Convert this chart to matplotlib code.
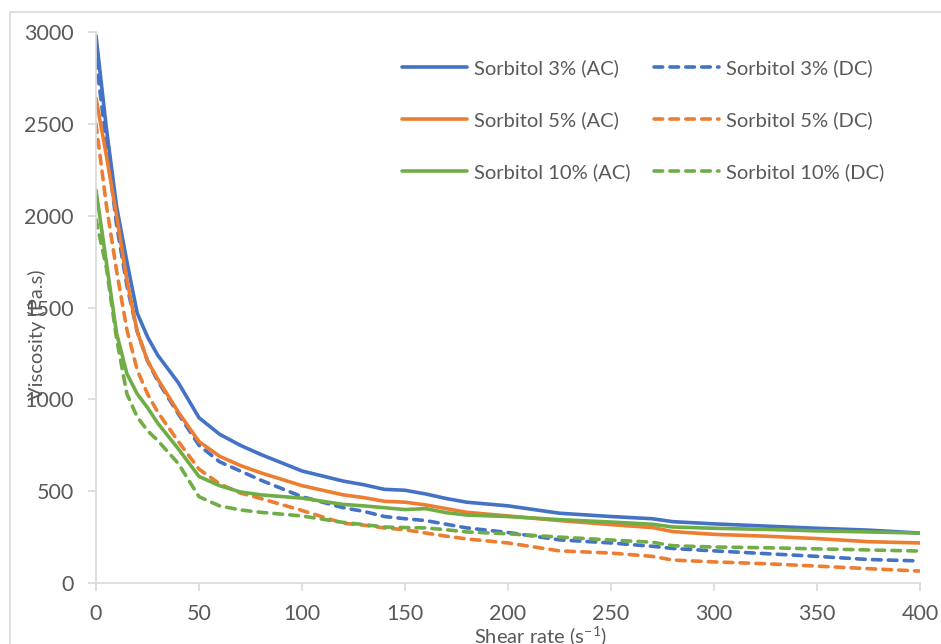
import matplotlib
matplotlib.use("Agg")
import matplotlib.pyplot as plt
from matplotlib.patches import Rectangle

plt.rcParams['font.family'] = ['Lato', 'DejaVu Sans']
plt.rcParams['mathtext.fontset'] = 'custom'
plt.rcParams['mathtext.rm'] = 'Lato'
plt.rcParams['mathtext.default'] = 'regular'

# shear rate (1/s)
shear = [0, 5, 10, 15, 20, 25, 30, 40, 50, 60, 70, 80, 100, 120, 130, 140,
         150, 160, 170, 180, 200, 225, 250, 270, 280, 300, 325, 350, 375, 400]

# viscosity (Pa.s), AC = ascending curve, DC = descending curve
s3_ac = [2980, 2480, 2050, 1750, 1470, 1340, 1240, 1090, 900, 810, 750, 700, 610, 555, 535, 510,
         505, 485, 460, 440, 420, 380, 362, 350, 334, 322, 310, 298, 288, 272]
s3_dc = [2850, 2400, 1950, 1620, 1370, 1210, 1100, 920, 750, 660, 610, 560, 470, 410, 390, 362,
         350, 340, 320, 300, 275, 235, 218, 200, 188, 175, 160, 145, 128, 120]
s5_ac = [2640, 2330, 2000, 1650, 1370, 1210, 1110, 930, 770, 690, 640, 600, 530, 480, 465, 445,
         440, 425, 405, 385, 365, 340, 318, 302, 280, 265, 255, 242, 225, 218]
s5_dc = [2500, 2060, 1700, 1380, 1160, 1030, 930, 770, 620, 540, 490, 460, 395, 325, 315, 300,
         290, 272, 255, 240, 218, 175, 163, 145, 125, 115, 105, 92, 78, 65]
s10_ac = [2140, 1750, 1360, 1140, 1030, 955, 870, 730, 580, 530, 496, 480, 462, 428, 420, 410,
          400, 405, 383, 370, 362, 345, 332, 320, 305, 298, 292, 284, 278, 272]
s10_dc = [1980, 1720, 1330, 1030, 904, 830, 775, 650, 470, 420, 398, 385, 365, 330, 318, 305,
          302, 300, 290, 278, 268, 250, 234, 222, 203, 196, 192, 186, 180, 174]

blue, orange, green = '#4472C4', '#ED7D31', '#70AD47'
grey_text = '#595959'
lw = 2.6
dash = (2.4, 2.0)

fig = plt.figure(figsize=(9.41, 6.44), dpi=100)
ax = fig.add_axes([0.102, 0.0947, 0.8757, 0.8556])

series = [
    (s3_ac, blue, '-', 'Sorbitol 3% (AC)'),
    (s3_dc, blue, '--', 'Sorbitol 3% (DC)'),
    (s5_ac, orange, '-', 'Sorbitol 5% (AC)'),
    (s5_dc, orange, '--', 'Sorbitol 5% (DC)'),
    (s10_ac, green, '-', 'Sorbitol 10% (AC)'),
    (s10_dc, green, '--', 'Sorbitol 10% (DC)'),
]
lines = {}
for y, c, ls, name in series:
    ln, = ax.plot(shear, y, color=c, lw=lw, label=name, solid_capstyle='round',
                  dash_capstyle='round', solid_joinstyle='round', dash_joinstyle='round')
    if ls == '--':
        ln.set_dashes(dash)
    lines[name] = ln

ax.set_xlim(0, 400)
ax.set_ylim(0, 3000)
ax.set_xticks(range(0, 401, 50))
ax.set_yticks(range(0, 3001, 500))

for s in ['top', 'right']:
    ax.spines[s].set_visible(False)
for s in ['left', 'bottom']:
    ax.spines[s].set_color('#D9D9D9')
    ax.spines[s].set_linewidth(1.2)
ax.tick_params(axis='both', colors='#D9D9D9', labelcolor=grey_text, labelsize=15.5,
               length=6, width=1.2)
ax.tick_params(axis='y', pad=10)
ax.tick_params(axis='x', pad=9)

fig.text(37 / 941, 1 - 335 / 644, 'Viscosity (Pa.s)', rotation=90, ha='center', va='center',
         fontsize=14.5, color=grey_text)
fig.text(541 / 941, 1 - 636 / 644, 'Shear rate (s$^{-1}$)', ha='center', va='center',
         fontsize=14.5, color=grey_text)

# legend: AC column then DC column
order = ['Sorbitol 3% (AC)', 'Sorbitol 5% (AC)', 'Sorbitol 10% (AC)',
         'Sorbitol 3% (DC)', 'Sorbitol 5% (DC)', 'Sorbitol 10% (DC)']
leg = fig.legend([lines[n] for n in order], order, ncol=2, frameon=False, fontsize=14.5,
                 loc='upper left', bbox_to_anchor=(392 / 941, 1 - 49 / 644),
                 handlelength=3.2, handletextpad=0.35, columnspacing=1.2,
                 labelspacing=1.7, borderpad=0, labelcolor=grey_text)

# outer chart border
fig.patches.append(Rectangle((9.5 / 941, -0.05), 1.0, 1 - 11.5 / 644 + 0.05,
                             transform=fig.transFigure, fill=False,
                             edgecolor='#D9D9D9', lw=1.2, zorder=0))

fig.savefig('out.png', dpi=100)
